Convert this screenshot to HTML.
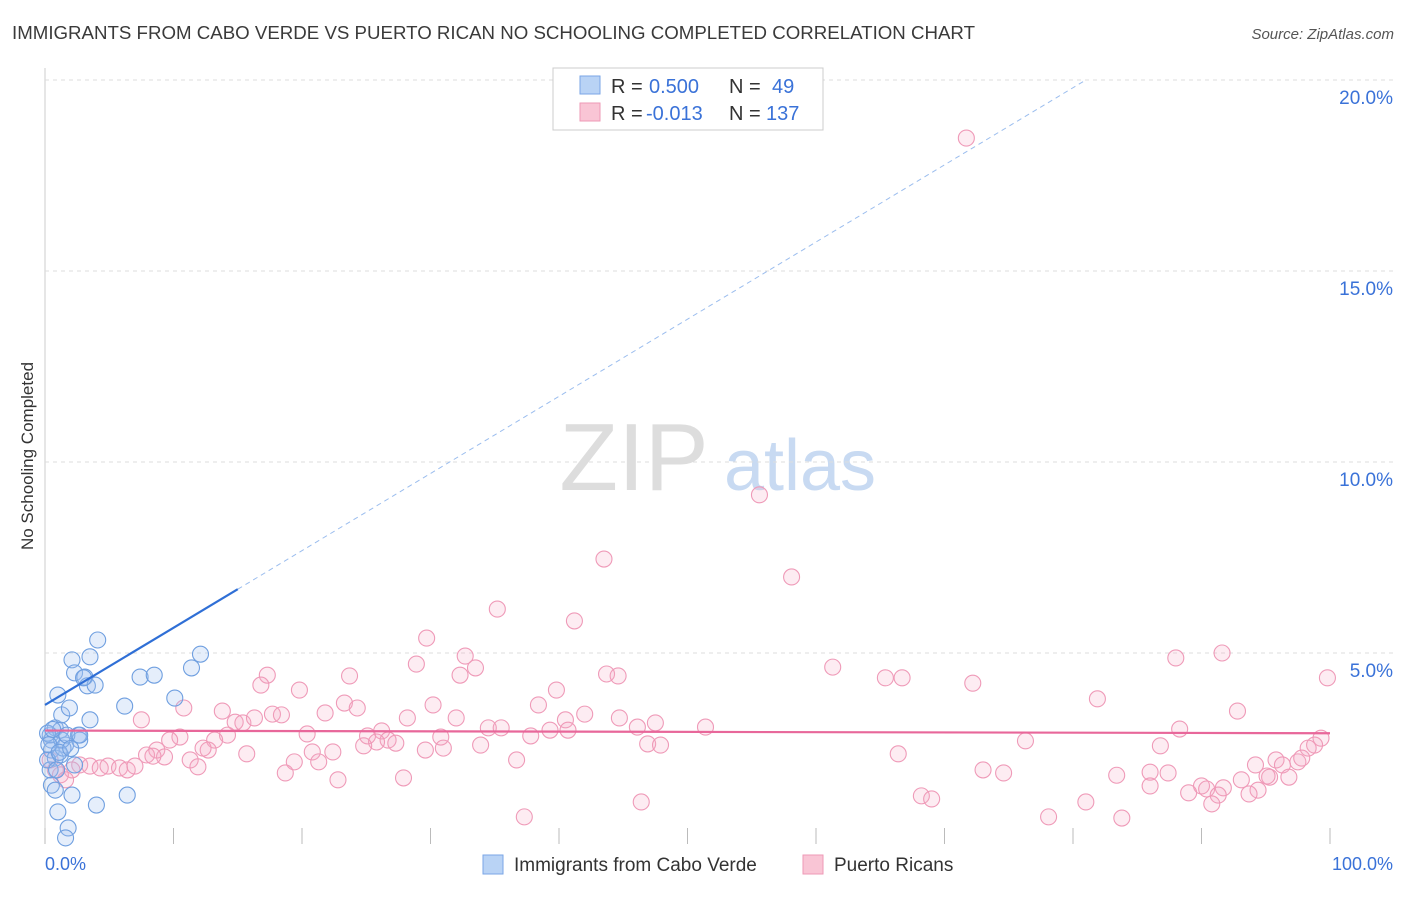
<!DOCTYPE html>
<html><head><meta charset="utf-8"><style>
body{margin:0;background:#fff;font-family:"Liberation Sans",sans-serif;}
svg text{font-family:"Liberation Sans",sans-serif;}
</style></head><body>
<svg id="c" width="1406" height="892" xmlns="http://www.w3.org/2000/svg">
<text x="12" y="39" font-size="18" fill="#3a3a3a" textLength="963" lengthAdjust="spacingAndGlyphs">IMMIGRANTS FROM CABO VERDE VS PUERTO RICAN NO SCHOOLING COMPLETED CORRELATION CHART</text>
<text x="1394" y="39" font-size="15" fill="#555" font-style="italic" text-anchor="end">Source: ZipAtlas.com</text>
<text x="33" y="456" font-size="17" fill="#333" text-anchor="middle" transform="rotate(-90 33 456)">No Schooling Completed</text>
<g><text x="634" y="490" font-size="96" fill="#ddd" font-family="Liberation Serif,serif" text-anchor="middle">ZIP</text><text x="800" y="490" font-size="72" fill="#c8daf2" text-anchor="middle">atlas</text></g>
<g id="grid"></g><g id="marks"></g>
<g>
<rect x="553" y="68" width="270" height="62" fill="#fff" stroke="#ccc"/>
<rect x="580" y="76" width="20" height="18" fill="#b9d3f5" stroke="#7aa6e6"/>
<rect x="580" y="103" width="20" height="18" fill="#f9c5d5" stroke="#ee99b6"/>
<text x="611" y="93" font-size="20" fill="#333">R =</text><text x="649" y="93" font-size="20" fill="#3a72d8">0.500</text>
<text x="729" y="93" font-size="20" fill="#333">N =</text><text x="772" y="93" font-size="20" fill="#3a72d8">49</text>
<text x="611" y="120" font-size="20" fill="#333">R =</text><text x="646" y="120" font-size="20" fill="#3a72d8">-0.013</text>
<text x="729" y="120" font-size="20" fill="#333">N =</text><text x="766" y="120" font-size="20" fill="#3a72d8">137</text>
</g>
<g>
<rect x="483" y="855" width="20" height="19" fill="#b9d3f5" stroke="#7aa6e6"/>
<text x="514" y="871" font-size="19" fill="#333">Immigrants from Cabo Verde</text>
<rect x="803" y="855" width="20" height="19" fill="#f9c5d5" stroke="#ee99b6"/>
<text x="834" y="871" font-size="19" fill="#333">Puerto Ricans</text>
</g>
<text x="45" y="870" font-size="18" fill="#3a72d8">0.0%</text>
<text x="1393" y="870" font-size="18" fill="#3a72d8" text-anchor="end">100.0%</text>
</svg>
<script>
const yTicks=[5,10,15,20];
const yTickLabels=["5.0%","10.0%","15.0%","20.0%"];
const blueX=[0.4,0.5,0.8,1.2,1.0,1.3,1.6,1.9,2.1,2.3,2.6,2.7,3.1,3.3,3.5,3.9,3.5,4.1,0.5,0.8,0.4,0.5,0.8,1.0,1.8,1.6,2.1,4.0,6.4,6.2,7.4,8.5,10.1,11.4,12.1,1.2,1.4,0.2,0.9,2.3,1.3,0.2,1.7,2.7,3.0,0.3,1.1,0.6,2.0];
const blueY=[2.85,2.72,3.04,2.98,3.9,3.38,2.59,3.56,4.82,4.48,2.85,2.72,4.37,4.14,3.25,4.16,4.9,5.34,2.46,2.25,1.94,1.54,1.41,0.84,0.42,0.16,1.28,1.02,1.28,3.61,4.37,4.42,3.82,4.61,4.97,2.33,2.51,2.2,1.94,2.07,2.72,2.9,2.85,2.85,4.35,2.6,2.4,3.0,2.5];
const pinkX=[71.7,55.6,43.5,58.1,35.2,41.2,29.7,32.7,28.9,33.5,32.3,43.7,44.6,61.3,65.4,66.7,72.2,88.0,91.6,99.8,81.9,92.8,17.3,16.8,19.8,23.7,39.8,23.3,24.3,30.2,38.4,10.8,13.8,17.7,18.4,21.8,42.0,28.2,32.0,40.5,44.7,47.5,7.5,14.8,15.4,16.3,34.5,35.5,46.1,51.4,39.3,40.7,88.3,26.2,20.4,25.1,14.2,10.5,9.7,13.2,26.7,30.8,37.8,76.3,99.3,25.8,27.3,24.8,33.9,31.0,29.6,46.9,47.9,86.8,98.8,98.3,8.7,12.7,12.3,20.8,22.4,15.7,66.4,7.9,9.3,8.4,11.3,19.4,21.3,36.7,95.8,97.5,97.8,2.7,3.5,4.3,4.9,5.8,6.4,7.0,11.9,94.2,96.3,2.1,0.8,1.2,1.6,18.7,73.0,74.6,86.0,87.4,83.4,93.1,95.3,96.8,95.1,22.8,27.9,86.0,90.0,90.4,89.0,91.7,94.4,91.3,93.7,68.2,69.0,81.0,90.8,46.4,78.1,83.8,37.3,0.4];
const pinkY=[18.48,9.14,7.46,6.99,6.15,5.84,5.39,4.92,4.71,4.61,4.42,4.45,4.4,4.63,4.35,4.35,4.21,4.87,5.0,4.35,3.8,3.48,4.42,4.16,4.03,4.4,4.03,3.69,3.56,3.64,3.64,3.56,3.48,3.4,3.38,3.43,3.4,3.3,3.3,3.25,3.3,3.17,3.25,3.19,3.17,3.3,3.04,3.04,3.06,3.06,2.98,2.98,3.01,2.96,2.88,2.83,2.85,2.8,2.72,2.72,2.72,2.8,2.83,2.7,2.77,2.67,2.64,2.57,2.59,2.51,2.46,2.62,2.59,2.57,2.59,2.51,2.46,2.46,2.51,2.41,2.41,2.36,2.36,2.33,2.28,2.3,2.2,2.15,2.15,2.2,2.2,2.15,2.25,2.07,2.04,1.99,2.04,1.99,1.94,2.04,2.02,2.07,2.07,1.94,1.94,1.81,1.68,1.86,1.94,1.86,1.88,1.86,1.8,1.68,1.75,1.75,1.78,1.68,1.73,1.52,1.52,1.44,1.34,1.47,1.41,1.28,1.31,1.26,1.18,1.1,1.05,1.1,0.71,0.68,0.71,2.2];
const blueTrend=[3.64,20.0];
const blueTrendX=[0,81];
const blueSolidEnd=15;
const pinkTrend=[2.97,2.9];
const X=v=>45+v*12.85, Y=v=>844-v*38.2;
const ns="http://www.w3.org/2000/svg";
function mk(t,a,p){const e=document.createElementNS(ns,t);for(const k in a)e.setAttribute(k,a[k]);p.appendChild(e);return e;}
const grid=document.getElementById('grid'),marks=document.getElementById('marks');
mk('line',{x1:45,y1:68,x2:45,y2:844,stroke:'#ccc'},grid);
yTicks.forEach((t,i)=>{
 const l=mk('line',{x1:45,y1:Y(t),x2:1394,y2:Y(t),stroke:'#ddd','stroke-dasharray':'4,4'},grid);
 
 
 const tx=mk('text',{x:1393,y:Y(t)+24,'font-size':19,fill:'#3a72d8','text-anchor':'end'},grid);tx.textContent=yTickLabels[i];
 
 
});
for(let i=0;i<=10;i++){const l=mk('line',{x1:X(i*10),y1:828,x2:X(i*10),y2:844,stroke:'#bbb'},grid);
 
 }
pinkX.forEach((x,i)=>{const c=mk('circle',{cx:X(x),cy:Y(pinkY[i]),r:8,fill:'rgba(246,170,196,0.22)',stroke:'#ef9ab8','stroke-width':1.1},marks);
 
 });
blueX.forEach((x,i)=>{const c=mk('circle',{cx:X(x),cy:Y(blueY[i]),r:8,fill:'rgba(160,195,240,0.28)',stroke:'#6f9fe0','stroke-width':1.1},marks);
 
 });
const bAt=x=>blueTrend[0]+(blueTrend[1]-blueTrend[0])*(x-blueTrendX[0])/(blueTrendX[1]-blueTrendX[0]);
let l=mk('line',{x1:X(blueSolidEnd),y1:Y(bAt(blueSolidEnd)),x2:X(blueTrendX[1]),y2:Y(blueTrend[1]),stroke:'#9bbdee','stroke-width':1,'stroke-dasharray':'5,4'},marks);


l=mk('line',{x1:X(0),y1:Y(blueTrend[0]),x2:X(blueSolidEnd),y2:Y(bAt(blueSolidEnd)),stroke:'#2f6fd6','stroke-width':2.2},marks);


l=mk('line',{x1:X(0),y1:Y(pinkTrend[0]),x2:X(100),y2:Y(pinkTrend[1]),stroke:'#e8679a','stroke-width':2.2},marks);


</script>
</body></html>
